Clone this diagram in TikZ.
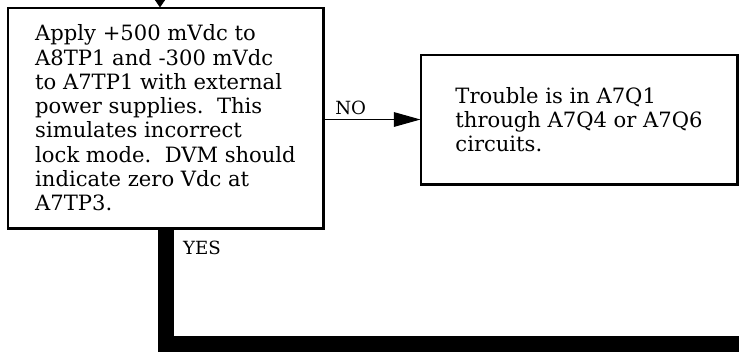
\documentclass[tikz,border=0pt]{standalone}
\usepackage{fontspec}
\newfontfamily\flowfont{DejaVu Serif}
\usepackage{tikz}
\usetikzlibrary{arrows.meta, positioning, calc}
\tikzset{
  stepbox/.style ={rectangle, draw=black, line width=0.9pt, align=left, inner sep=0pt,
                   font=\flowfont\fontsize{18pt}{20.7pt}\selectfont},
  heavyedge/.style={line width=2.2pt, line cap=butt},
  flowarr/.style ={-{Triangle[length=0.8cm, width=0.44cm]}, line width=0.9pt},
  inarr/.style   ={-{Triangle[length=0.24cm, width=0.32cm]}, line width=0.9pt},
  yesbar/.style  ={line width=0.48cm, line join=miter},
  flbl/.style    ={font=\flowfont\fontsize{15.5pt}{18pt}\selectfont, inner sep=1pt},
}
\begin{document}
\begin{tikzpicture}[x=0.03cm, y=-0.03cm]
  \useasboundingbox (0,0) rectangle (739,352);
  % test box
  \node[stepbox, minimum width=9.45cm, minimum height=6.6cm] (check) at (165.5,118)
    {Apply +500 mVdc to\\
     A8TP1 and -300 mVdc\\
     to A7TP1 with external\\
     power supplies.\ \ This\\
     simulates incorrect\\
     lock mode.\ \ DVM should\\
     indicate zero Vdc at\\
     A7TP3.};
  \draw[heavyedge] (check.north east) -- (check.south east) -- (check.south west);
  % result box
  \node[stepbox, minimum width=9.48cm, minimum height=3.87cm] (trouble) at (579,119.5)
    {Trouble is in A7Q1\\
     through A7Q4 or A7Q6\\
     circuits.};
  \draw[heavyedge] (trouble.north east) -- (trouble.south east) -- (trouble.south west);
  % flow
  \coordinate (entry) at (160,-12);
  \coordinate (exit) at (760,343.5);
  \draw[inarr] (entry) -- (entry |- check.north);
  \draw[flowarr] (check.east |- trouble.west) -- node[flbl, pos=0.28, above=3pt] (no) {NO} (trouble.west);
  \draw[yesbar] (check.south) -- (check.south |- exit) -- (exit);
  \node[flbl] (yes) at (202,248) {YES};
\end{tikzpicture}
\end{document}
